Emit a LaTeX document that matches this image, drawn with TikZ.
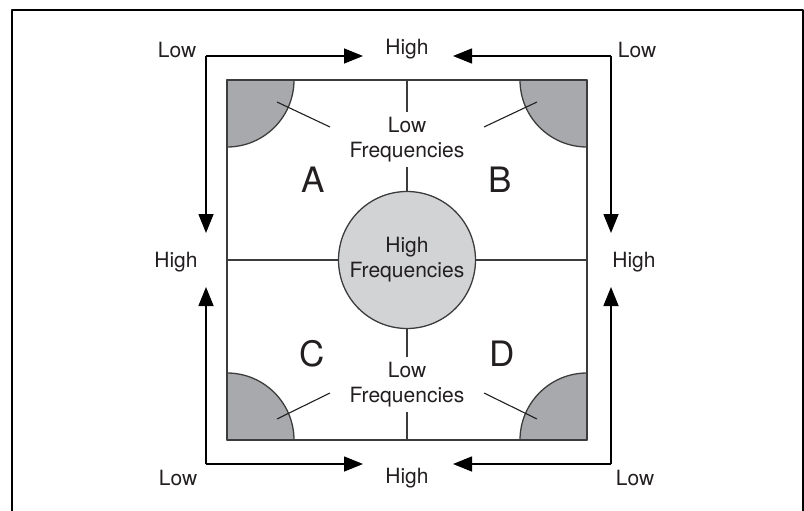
\documentclass[tikz,border=0pt]{standalone}
\usepackage{fontspec}
\setmainfont{TeX Gyre Heros}
\usetikzlibrary{arrows.meta}

\definecolor{lineclr}{RGB}{60,60,60}
\definecolor{textclr}{RGB}{35,31,32}
\definecolor{cornerclr}{RGB}{168,169,172}
\definecolor{centerclr}{RGB}{210,211,213}

\begin{document}
\begin{tikzpicture}[x=1pt, y=-1pt, line join=round,
    txt/.style={text=textclr, font=\fontsize{21}{25}\selectfont, align=center},
    big/.style={text=textclr, font=\fontsize{35}{40}\selectfont},
    arr/.style={line width=1.5pt, -{Triangle[length=19pt, width=15pt]}}]
      \useasboundingbox (0,0) rectangle (804,511);
      \def\r{67}

      % Frame
      \draw[line width=2pt] (12,511) -- (12,10.5) -- (803,10.5) -- (803,511);

      % Square corners
      \coordinate (A) at (227,80);
      \coordinate (B) at (587,80);
      \coordinate (C) at (227,440);
      \coordinate (D) at (587,440);
      % Edge midpoints
      \coordinate (MT) at (407,80);
      \coordinate (MB) at (407,440);
      \coordinate (ML) at (227,260);
      \coordinate (MR) at (587,260);

      % Shaded corners
      \filldraw[fill=cornerclr, draw=lineclr, line width=1.3pt] (A) -- ++(\r,0) arc[start angle=0, end angle=90, radius=\r] -- cycle;
      \filldraw[fill=cornerclr, draw=lineclr, line width=1.3pt] (B) -- ++(-\r,0) arc[start angle=180, end angle=90, radius=\r] -- cycle;
      \filldraw[fill=cornerclr, draw=lineclr, line width=1.3pt] (C) -- ++(\r,0) arc[start angle=0, end angle=-90, radius=\r] -- cycle;
      \filldraw[fill=cornerclr, draw=lineclr, line width=1.3pt] (D) -- ++(-\r,0) arc[start angle=180, end angle=270, radius=\r] -- cycle;
      \draw[lineclr, line width=1.3pt] (A)--(B)--(D)--(C)--cycle;

      % Centre and labels
      \node[circle, draw=lineclr, line width=1.3pt, fill=centerclr, minimum size=137pt, inner sep=0pt, txt] (HF) at (407,260) {High\\Frequencies};
      \node[txt, inner sep=5pt] (LFT) at (407,139.5) {Low\\Frequencies};
      \node[txt, inner sep=5pt] (LFB) at (407,384.5) {Low\\Frequencies};

      \draw[lineclr, line width=1.3pt] (MT) -- (LFT.north);
      \draw[lineclr, line width=1.3pt] (LFT.south) -- (HF.north);
      \draw[lineclr, line width=1.3pt] (HF.south) -- (LFB.north);
      \draw[lineclr, line width=1.3pt] (LFB.south) -- (MB);
      \draw[lineclr, line width=1.3pt] (ML) -- (HF.west);
      \draw[lineclr, line width=1.3pt] (HF.east) -- (MR);

      \node[big] (QA) at (313,180) {A};
      \node[big] (QB) at (500,180) {B};
      \node[big] (QC) at (312,354) {C};
      \node[big] (QD) at (502,354) {D};

      % Pointers into the corners
      \coordinate (PA) at (277,102);
      \coordinate (PB) at (537,102);
      \coordinate (PC) at (277,419);
      \coordinate (PD) at (537,419);
      \coordinate (QA1) at (330,127);
      \coordinate (QB1) at (484,127);
      \coordinate (QC1) at (330,393);
      \coordinate (QD1) at (484,393);
      \draw[textclr, line width=1.1pt] (PA) -- (QA1);
      \draw[textclr, line width=1.1pt] (PB) -- (QB1);
      \draw[textclr, line width=1.1pt] (PC) -- (QC1);
      \draw[textclr, line width=1.1pt] (PD) -- (QD1);

      % Outer arrows
      \coordinate (OA) at (206,56);
      \coordinate (OB) at (611,56);
      \coordinate (OC) at (206,464);
      \coordinate (OD) at (611,464);
      \draw[arr] (OA) -- (363,56) coordinate (T1);
      \draw[arr] (OB) -- (453,56) coordinate (T2);
      \draw[arr] (OA) -- (206,233) coordinate (L1);
      \draw[arr] (OC) -- (206,287) coordinate (L2);
      \draw[arr] (OB) -- (611,233) coordinate (R1);
      \draw[arr] (OD) -- (611,287) coordinate (R2);
      \draw[arr] (OC) -- (363,464) coordinate (B1);
      \draw[arr] (OD) -- (453,464) coordinate (B2);

      \node[txt] (LowA) at (177,50) {Low};
      \node[txt] (LowB) at (637,50) {Low};
      \node[txt] (LowC) at (178,478) {Low};
      \node[txt] (LowD) at (635,478) {Low};
      \node[txt] (HighT) at (407,49) {High};
      \node[txt] (HighB) at (407,478) {High};
      \node[txt] (HighL) at (176,262) {High};
      \node[txt] (HighR) at (634,262) {High};

    \end{tikzpicture}
\end{document}
